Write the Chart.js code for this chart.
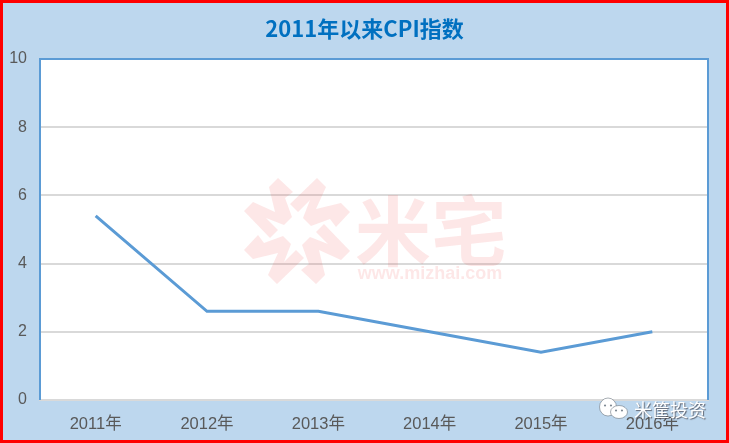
<!DOCTYPE html>
<html>
<head>
<meta charset="utf-8">
<script src="https://cdn.jsdelivr.net/npm/chart.js@4"></script>
<style>
  html, body { margin: 0; padding: 0; background: #bdd7ee; }
  #wrap { position: relative; width: 729px; height: 443px; }
</style>
</head>
<body>
<div id="wrap"><canvas id="cpiChart" width="729" height="443"></canvas></div>
<script>
const years = ["2011年", "2012年", "2013年", "2014年", "2015年", "2016年"];
const cpiValues = [5.4, 2.6, 2.6, 2.0, 1.4, 2.0];
const yTicks = [0, 2, 4, 6, 8, 10];
const titleText = "2011年以来CPI指数";

const cjkFont = '"Noto Sans CJK SC", "Liberation Sans", sans-serif';
const tickFont = '"Liberation Sans", "Noto Sans CJK SC", sans-serif';

// outer fill, white plot area, red frame, title centred on the whole page
const framePlugin = {
  id: "frame",
  beforeDraw(chart) {
    const { ctx, width, height, chartArea: a } = chart;
    ctx.save();
    ctx.fillStyle = "#bdd7ee";
    ctx.fillRect(0, 0, width, height);
    ctx.fillStyle = "#ffffff";
    ctx.fillRect(a.left, a.top, a.right - a.left, a.bottom - a.top);
    ctx.fillStyle = "#0070c0";
    ctx.textAlign = "center";
    ctx.textBaseline = "middle";
    ctx.font = 'bold 22px ' + cjkFont;
    ctx.fillText(titleText, width / 2, 29);
    ctx.restore();
  },
  afterDraw(chart) {
    const { ctx, width, height } = chart;
    ctx.save();
    ctx.strokeStyle = "#ff0000";
    ctx.lineWidth = 3;
    ctx.strokeRect(1.5, 1.5, width - 3, height - 3);
    ctx.restore();
  }
};

// pink watermark under the line
const watermarkPlugin = {
  id: "watermark",
  beforeDatasetsDraw(chart) {
    const ctx = chart.ctx;
    const arm = [[-28, -44], [-19, -53], [-4, -39], [-12, -33], [-5, -14], [-13, -6], [-31, -13], [-19, -1], [-27, 7], [-53, -20], [-44, -29], [-22, -19]];
    ctx.save();
    ctx.fillStyle = "rgba(240,70,70,0.13)";
    ctx.translate(297, 231);
    for (let i = 0; i < 4; i++) {
      ctx.beginPath();
      arm.forEach((pt, j) => j ? ctx.lineTo(pt[0], pt[1]) : ctx.moveTo(pt[0], pt[1]));
      ctx.closePath();
      ctx.fill();
      ctx.rotate(Math.PI / 2);
    }
    ctx.restore();
    ctx.save();
    ctx.fillStyle = "rgba(240,70,70,0.13)";
    ctx.textBaseline = "middle";
    ctx.textAlign = "center";
    ctx.font = 'bold 76px ' + cjkFont;
    ctx.fillText("米宅", 431, 231);
    ctx.font = 'bold 18px "Liberation Sans", sans-serif';
    ctx.fillText("www.mizhai.com", 430, 274);
    ctx.restore();
  }
};

// WeChat stamp over the bottom right corner
const stampPlugin = {
  id: "stamp",
  afterDraw(chart) {
    const ctx = chart.ctx;
    const bubble = (x, y, rx, ry) => {
      ctx.fillStyle = "#ffffff";
      ctx.strokeStyle = "rgba(110,120,130,0.6)";
      ctx.lineWidth = 1;
      ctx.beginPath();
      ctx.ellipse(x, y, rx, ry, 0, 0, Math.PI * 2);
      ctx.fill();
      ctx.stroke();
      ctx.fillStyle = "#7f8a94";
      ctx.beginPath();
      ctx.arc(x - rx * 0.35, y - 1.5, 1.1, 0, Math.PI * 2);
      ctx.arc(x + rx * 0.35, y - 1.5, 1.1, 0, Math.PI * 2);
      ctx.fill();
    };
    ctx.save();
    bubble(608, 407, 8.5, 9);
    bubble(619, 412, 8.5, 6.5);
    ctx.textAlign = "left";
    ctx.textBaseline = "middle";
    ctx.font = '18px ' + cjkFont;
    ctx.shadowColor = "rgba(70,70,80,0.8)";
    ctx.shadowBlur = 1;
    ctx.shadowOffsetX = 1;
    ctx.shadowOffsetY = 1;
    ctx.fillStyle = "#ffffff";
    ctx.fillText("米筐投资", 634, 410);
    ctx.restore();
  }
};

// blue left, top and right edges of the plot
const edgePlugin = {
  id: "edges",
  beforeDatasetsDraw(chart) {
    const { ctx, chartArea: a } = chart;
    ctx.save();
    ctx.strokeStyle = "#5b9bd5";
    ctx.lineWidth = 2;
    ctx.beginPath();
    ctx.moveTo(a.left, a.bottom);
    ctx.lineTo(a.left, a.top);
    ctx.lineTo(a.right, a.top);
    ctx.lineTo(a.right, a.bottom);
    ctx.stroke();
    ctx.restore();
  }
};

new Chart(document.getElementById("cpiChart").getContext("2d"), {
  type: "line",
  data: {
    labels: years,
    datasets: [{
      data: cpiValues,
      borderColor: "#5b9bd5",
      borderWidth: 3,
      pointRadius: 0,
      tension: 0,
      fill: false
    }]
  },
  options: {
    responsive: false,
    animation: false,
    devicePixelRatio: 1,
    layout: { padding: { top: 59, bottom: 0, left: 0, right: 21 } },
    plugins: {
      legend: { display: false },
      tooltip: { enabled: false },
      title: { display: false }
    },
    scales: {
      x: {
        offset: true,
        afterFit(axis) { axis.height = 43; },
        grid: { display: false },
        border: { color: "#d9d9d9", width: 2 },
        ticks: {
          color: "#595959",
          font: { family: tickFont, size: 16.5 },
          padding: 7,
          maxRotation: 0
        }
      },
      y: {
        min: 0,
        max: 10,
        afterFit(axis) { axis.width = 40; },
        afterBuildTicks(axis) {
          axis.ticks = yTicks.map(v => ({ value: v }));
        },
        grid: { color: "#d9d9d9", lineWidth: 2, drawTicks: false },
        border: { display: false },
        ticks: {
          color: "#595959",
          font: { family: tickFont, size: 16 },
          padding: 13
        }
      }
    }
  },
  plugins: [framePlugin, edgePlugin, watermarkPlugin, stampPlugin]
});
</script>
</body>
</html>
